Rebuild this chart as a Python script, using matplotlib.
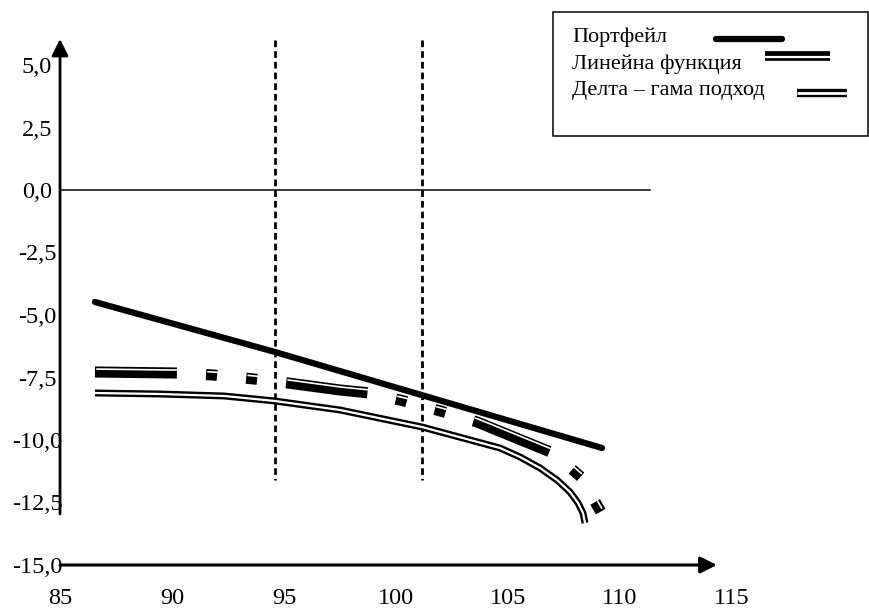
import matplotlib
matplotlib.use('Agg')
from matplotlib import pyplot as plt
import matplotlib.transforms as mtransforms

plt.rcParams['font.family'] = ['Liberation Serif', 'DejaVu Serif']
plt.rcParams['lines.scale_dashes'] = False

# values
x_ticks = [85, 90, 95, 100, 105, 110, 115]
y_ticks = [5.0, 2.5, 0.0, -2.5, -5.0, -7.5, -10.0, -12.5, -15.0]

portfolio_x = [86.56, 94.60, 109.20]
portfolio_y = [-4.48, -6.48, -10.32]

linear_x = [86.56, 90.22, 91.83, 93.66, 95.18, 97.50, 98.84, 100.36,
            102.14, 103.62, 107.01, 108.26, 109.15]
linear_y = [-7.28, -7.32, -7.40, -7.56, -7.72, -8.00, -8.12, -8.44,
            -8.88, -9.28, -10.52, -11.48, -12.88]

delta_x = [86.56, 89.46, 92.34, 94.60, 97.50, 101.16, 104.64, 105.54,
           106.43, 107.19, 107.77, 108.13, 108.35, 108.44]
delta_y = [-8.12, -8.16, -8.24, -8.44, -8.80, -9.48, -10.32, -10.68,
           -11.12, -11.60, -12.08, -12.52, -12.92, -13.32]

var_lines = [94.60, 101.16]

legend_labels = ['Портфейл', 'Линейна функция', 'Делта – гама подход']

fig = plt.figure(figsize=(8.69, 6.08), dpi=100)
ax = fig.add_axes([0, 0, 1, 1])
ax.set_xlim(82.32, 121.12)
ax.set_ylim(-16.72, 7.6)
ax.axis('off')


def shifted(dx, dy):
    return ax.transData + mtransforms.ScaledTranslation(dx / 72, dy / 72, fig.dpi_scale_trans)


# axes with arrows
ax.annotate('', xy=(85, 6.04), xytext=(85, -12.96),
            arrowprops=dict(arrowstyle='-|>', lw=2, color='k', mutation_scale=25,
                            shrinkA=0, shrinkB=0))
ax.annotate('', xy=(114.33, -15), xytext=(85, -15),
            arrowprops=dict(arrowstyle='-|>', lw=2.2, color='k', mutation_scale=25,
                            shrinkA=0, shrinkB=0))
ax.plot([85, 111.34], [0, 0], color='k', lw=1.1)

for v in var_lines:
    ax.plot([v, v], [6.0, -11.6], color='k', lw=2, dashes=(4.8, 2.9))

for t in x_ticks:
    ax.text(t, -16.24, str(t), ha='center', va='center_baseline', fontsize=17.5)
for t in y_ticks:
    ax.text(83.97, t, ('%.1f' % t).replace('.', ','), ha='center',
            va='center_baseline', fontsize=17.5)

# portfolio
ax.plot(portfolio_x, portfolio_y, color='k', lw=4.5, solid_capstyle='round')

# linear function: thick dashed band with thin white stripe near the top
lin_dash = (59, 21, 8, 21, 8, 21)
ax.plot(linear_x, linear_y, color='k', lw=8, dashes=lin_dash)
ax.plot(linear_x, linear_y, color='w', lw=1.2, dashes=lin_dash,
        transform=shifted(0.9, 2.1))

# delta-gamma: double line
ax.plot(delta_x, delta_y, color='k', lw=5, solid_capstyle='butt')
ax.plot(delta_x, delta_y, color='w', lw=1.6, solid_capstyle='butt')

# legend box
W, H = 869.0, 608.0
ax.add_patch(plt.Rectangle((553 / W, 1 - 136 / H), 315 / W, 124 / H,
                           transform=ax.transAxes, fill=False, lw=1.1, ec='k'))
for lab, ypx in zip(legend_labels, [35, 62, 88]):
    ax.text(572 / W, 1 - ypx / H, lab, transform=ax.transAxes, ha='left',
            va='center_baseline', fontsize=16)
ax.plot([716 / W, 782 / W], [1 - 39 / H, 1 - 39 / H], transform=ax.transAxes,
        color='k', lw=4.5, solid_capstyle='round')
ax.plot([765 / W, 830 / W], [1 - 55.5 / H, 1 - 55.5 / H], transform=ax.transAxes,
        color='k', lw=7, solid_capstyle='butt')
ax.plot([765 / W, 830 / W], [1 - 56.8 / H, 1 - 56.8 / H], transform=ax.transAxes,
        color='w', lw=1.6, solid_capstyle='butt')
ax.plot([797 / W, 847 / W], [1 - 92.5 / H, 1 - 92.5 / H], transform=ax.transAxes,
        color='k', lw=6, solid_capstyle='butt')
ax.plot([797 / W, 847 / W], [1 - 92.5 / H, 1 - 92.5 / H], transform=ax.transAxes,
        color='w', lw=2, solid_capstyle='butt')

fig.savefig('out.png', dpi=100)
